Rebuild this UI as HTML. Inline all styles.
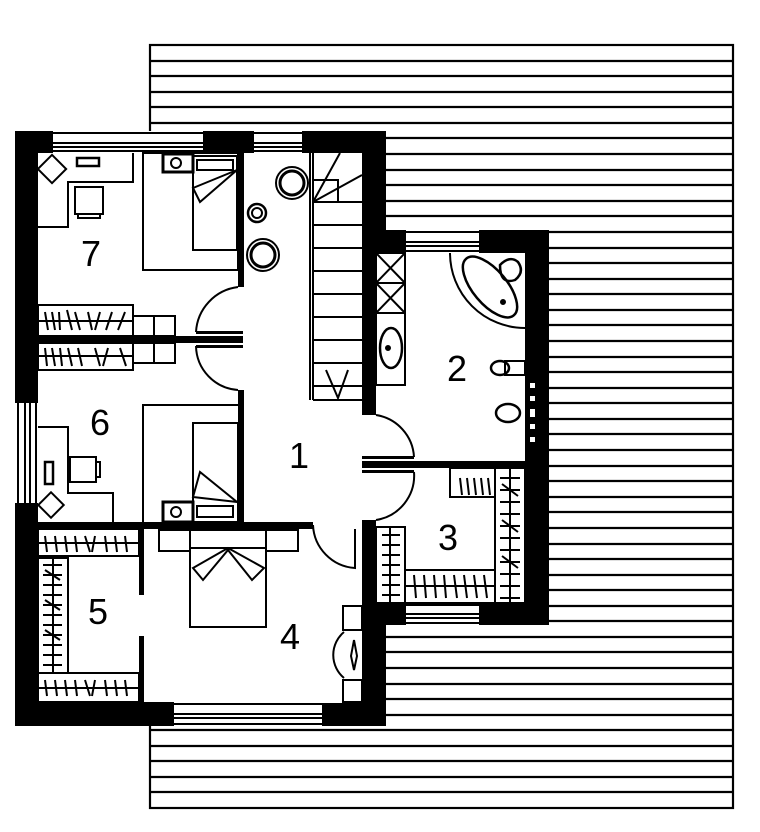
<!DOCTYPE html>
<html><head><meta charset="utf-8"><style>
html,body{margin:0;padding:0;background:#fff}
svg{display:block}
text{font-family:"Liberation Sans",sans-serif;font-size:36px;fill:#000}
</style></head><body>
<svg width="760" height="832" viewBox="0 0 760 832" xmlns="http://www.w3.org/2000/svg">
<g stroke="#000" stroke-width="2.2" fill="none">
<rect x="150" y="45" width="583" height="763" fill="#fff"/>
<path d="M150 61H733M150 76H733M150 92H733M150 107H733M150 123H733M150 138H733M150 154H733M150 170H733M150 185H733M150 201H733M150 216H733M150 232H733M150 248H733M150 263H733M150 279H733M150 294H733M150 310H733M150 325H733M150 341H733M150 357H733M150 372H733M150 388H733M150 403H733M150 419H733M150 434H733M150 450H733M150 466H733M150 481H733M150 497H733M150 512H733M150 528H733M150 544H733M150 559H733M150 575H733M150 590H733M150 606H733M150 621H733M150 637H733M150 652H733M150 668H733M150 684H733M150 699H733M150 715H733M150 730H733M150 746H733M150 761H733M150 777H733M150 792H733"/>
</g>
<rect x="15" y="131" width="371" height="595" fill="#000"/>
<rect x="362" y="230" width="187" height="395" fill="#000"/>
<g fill="#fff">
<rect x="38" y="153" width="200" height="370"/>
<rect x="244" y="153" width="118" height="550"/>
<rect x="38" y="529" width="324" height="173"/>
<rect x="376" y="253" width="149" height="350"/>
<rect x="362" y="415" width="14" height="105"/>
<rect x="238" y="287" width="6" height="103"/>
<rect x="313" y="523" width="49" height="6"/>
<rect x="53" y="131" width="150" height="22"/>
<rect x="254" y="131" width="48" height="22"/>
<rect x="406" y="230" width="73" height="23"/>
<rect x="406" y="603" width="73" height="22"/>
<rect x="174" y="702" width="148" height="24"/>
<rect x="15" y="403" width="23" height="100"/>
</g>
<g stroke="#000" stroke-width="2" fill="none">
<path d="M53 133H203M53 143H203M53 147H203M53 151H203M254 133H302M254 143H302M254 147H302M254 151H302M406 232H479M406 242H479M406 246H479M406 251H479M406 605H479M406 614H479M406 618H479M406 623H479M174 704H322M174 714H322M174 718H322M174 724H322M18 403V503M25 403V503M30 403V503M36 403V503"/>
</g>
<g fill="#000">
<rect x="38" y="336" width="205" height="7"/>
<rect x="38" y="522" width="275" height="7"/>
<rect x="362" y="461" width="163" height="7"/>
<rect x="139" y="529" width="5" height="66"/>
<rect x="139" y="636" width="5" height="66"/>
<rect x="362" y="456" width="52" height="3"/>
<rect x="362" y="470" width="52" height="3"/>
<rect x="196" y="331" width="47" height="3"/>
<rect x="196" y="345" width="47" height="3"/>
</g>
<g fill="#fff"><rect x="530" y="383" width="5" height="5"/><rect x="530" y="396" width="5" height="5"/><rect x="530" y="409" width="5" height="8"/><rect x="530" y="424" width="5" height="5"/><rect x="530" y="437" width="5" height="5"/></g>
<g stroke="#000" stroke-width="2" fill="none">
<path d="M238 287A48 48 0 0 0 196 332M196 346A45 45 0 0 0 238 390"/>
<path d="M376 415A45 45 0 0 1 414 457M414 472A45 45 0 0 1 376 520"/>
<path d="M313 525A45 45 0 0 0 355 568V529"/>
<path d="M310 153V400M313 153V400M313 400H362M313 180H338V202M313 202H362M313 225H362M313 248H362M313 271H362M313 294H362M313 317H362M313 340H362M313 363H362M313 386H362M313 202L340 153M313 202L362 175M326 370L338 398L348 370"/>
<path d="M38 227H68V182H133V153"/>
<rect x="75" y="187" width="28" height="27"/><rect x="78" y="214" width="22" height="4"/>
<rect x="77" y="158" width="22" height="8" stroke-width="2.5"/>
<rect x="42" y="159" width="20" height="20" transform="rotate(45 52 169)"/>
<rect x="143" y="153" width="95" height="117"/>
<rect x="193" y="156" width="44" height="94"/><rect x="197" y="160" width="36" height="10"/>
<path d="M193 188L237 170L200 202Z"/>
<rect x="163" y="154" width="30" height="18" stroke-width="3"/><circle cx="176" cy="163" r="5"/>
<circle cx="292" cy="183" r="12" stroke-width="3"/><circle cx="292" cy="183" r="16"/>
<circle cx="257" cy="213" r="9" stroke-width="2.5"/><circle cx="257" cy="213" r="5"/>
<circle cx="263" cy="255" r="12" stroke-width="3"/><circle cx="263" cy="255" r="16"/>
<rect x="38" y="305" width="95" height="31"/><rect x="38" y="343" width="95" height="27"/>
<rect x="133" y="316" width="42" height="20"/><rect x="133" y="343" width="42" height="20"/><path d="M154 316V363"/>
<path d="M38 321H133M38 356H133M45 312L48 330M52 312L55 330M59 312L60 330M67 310L72 330M75 312L80 330M88 312L92 330M100 312L95 330M112 312L106 330M125 312L118 330M45 348L47 366M52 348L55 366M60 348L62 366M68 348L72 366M78 348L82 366M95 348L100 366M108 348L103 366M120 348L126 366"/>
<path d="M38 427H68V493H113V522M143 522V405H238"/>
<rect x="70" y="457" width="26" height="25"/><rect x="96" y="462" width="4" height="15"/>
<rect x="45" y="462" width="8" height="22" stroke-width="2.5"/>
<rect x="42" y="496" width="18" height="18" transform="rotate(45 51 505)"/>
<rect x="193" y="423" width="45" height="99"/><rect x="197" y="506" width="36" height="11"/>
<path d="M193 497L237 502L200 472Z"/>
<rect x="163" y="502" width="30" height="20" stroke-width="3"/><circle cx="176" cy="512" r="5"/>
<rect x="38" y="529" width="101" height="27"/><rect x="38" y="558" width="30" height="115"/><rect x="38" y="673" width="101" height="29"/>
<path d="M38 543H139M38 688H139M53 558V673M45 536L47 552M55 536L57 552M65 536L67 552M75 536L77 552M85 536L90 552M95 536L92 552M105 536L107 552M115 536L117 552M125 536L127 552M45 680L47 696M55 680L57 696M65 680L67 696M75 680L77 696M85 680L90 696M95 680L92 696M105 680L107 696M115 680L117 696M125 680L127 696M43 565H62M43 575H62M43 585H62M43 595H62M43 605H62M43 615H62M43 625H62M43 635H62M43 645H62M43 655H62M43 665H62M45 570L60 580M45 600L60 610M45 630L60 640"/>
<rect x="190" y="530" width="76" height="97"/><path d="M190 548H266M228 548L193 568L203 580L228 550L252 580L264 568Z"/>
<rect x="159" y="530" width="31" height="21"/><rect x="266" y="530" width="32" height="21"/>
<rect x="343" y="606" width="19" height="24"/><rect x="343" y="680" width="19" height="22"/>
<path d="M344 632A30 30 0 0 0 344 678M354 640L351 656L354 670L357 656Z"/>
<rect x="376" y="253" width="29" height="132"/><path d="M376 283H405M376 313H405M376 253L405 283M405 253L376 283M376 283L405 313M405 283L376 313"/>
<ellipse cx="391" cy="348" rx="11" ry="20" stroke-width="2.5"/><circle cx="388" cy="348" r="2" fill="#000"/>
<path d="M450 253A75 75 0 0 0 525 328"/>
<ellipse cx="490" cy="287" rx="17" ry="37" transform="rotate(-40 490 287)" stroke-width="2.5"/><circle cx="503" cy="302" r="2" fill="#000"/>
<path d="M500 265Q510 255 518 262Q525 272 515 280Q500 285 500 265Z" stroke-width="2.5"/>
<ellipse cx="500" cy="368" rx="9" ry="7" stroke-width="2.5"/><rect x="505" y="361" width="20" height="14"/>
<ellipse cx="508" cy="413" rx="12" ry="9" stroke-width="2.5"/>
<rect x="376" y="527" width="29" height="76"/><rect x="405" y="570" width="90" height="33"/><rect x="495" y="468" width="30" height="135"/><rect x="450" y="468" width="45" height="29"/>
<path d="M390 527V603M405 586H495M510 468V603M460 478L462 495M467 478L469 495M474 478L476 495M481 478L483 495M488 478L490 495M382 535H400M382 545H400M382 555H400M382 565H400M382 575H400M382 585H400M382 595H400M414 575L416 598M424 575L426 598M434 575L436 598M444 575L446 598M454 575L457 598M464 575L467 598M474 575L477 598M484 575L487 598M500 478H520M500 490H520M500 502H520M500 514H520M500 526H520M500 538H520M500 550H520M500 562H520M500 574H520M500 586H520M500 598H520M502 484L518 496M502 520L518 532M502 556L518 568"/>
</g>
<text x="81" y="266">7</text>
<text x="90" y="435">6</text>
<text x="289" y="468">1</text>
<text x="447" y="381">2</text>
<text x="438" y="550">3</text>
<text x="88" y="624">5</text>
<text x="280" y="649">4</text>
</svg>
</body></html>
